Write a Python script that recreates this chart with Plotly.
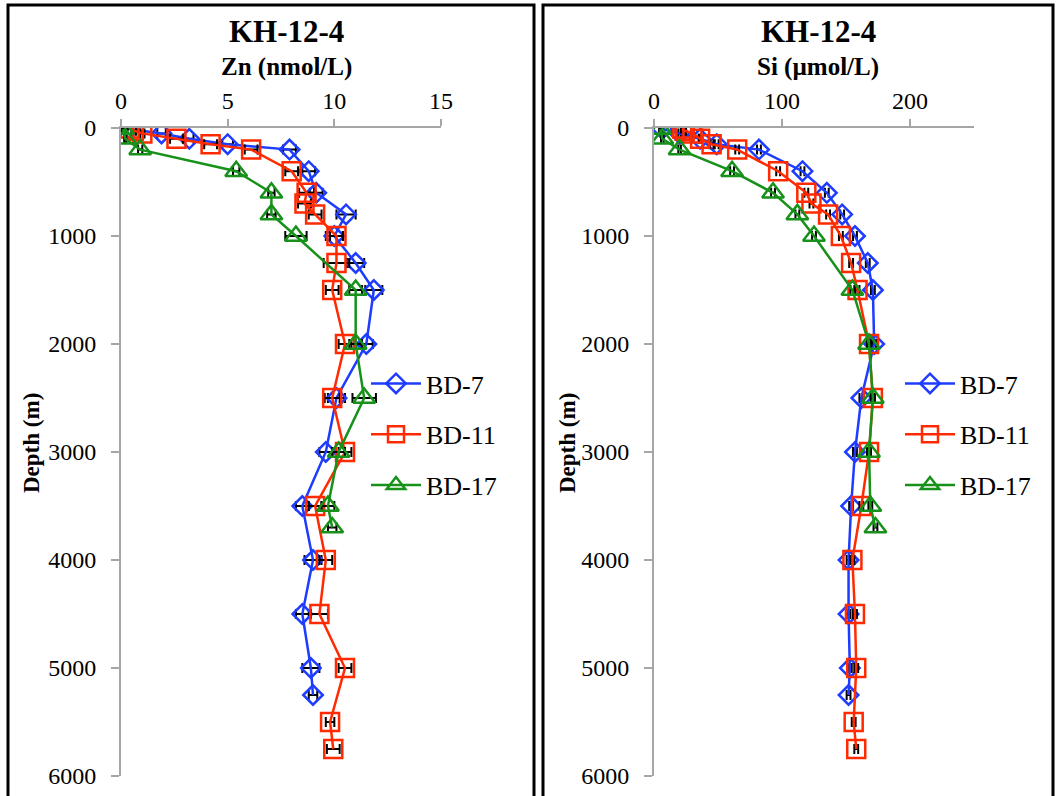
import plotly.graph_objects as go

# ---------------- data ----------------
series_names = ["BD-7", "BD-11", "BD-17"]

bd7_depth = [10, 50, 100, 150, 200, 400, 600, 800, 1000, 1250, 1500, 2000, 2500, 3000, 3500, 4000, 4500, 5000, 5250]
bd7_zn = [0.4, 1.9, 3.2, 5.0, 7.9, 8.8, 9.15, 10.55, 10.0, 11.0, 11.85, 11.5, 10.1, 9.6, 8.5, 9.0, 8.5, 8.9, 9.0]
bd7_zn_err = [0.1, 0.2, 0.2, 0.25, 0.3, 0.3, 0.3, 0.45, 0.4, 0.4, 0.4, 0.3, 0.4, 0.3, 0.3, 0.4, 0.3, 0.4, 0.2]
bd7_si = [6.5, 20, 36, 49, 82, 116, 135, 147, 157, 167, 171, 172, 162, 157, 154, 152, 152, 153, 152]
bd7_si_err = [1.0, 1.0, 1.0, 1.5, 1.5, 1.5, 1.5, 1.5, 1.5, 1.5, 1.5, 1.5, 1.5, 1.5, 1.5, 1.5, 1.5, 1.5, 1.5]

bd11_depth = [5, 25, 50, 100, 150, 200, 400, 600, 700, 800, 1000, 1250, 1500, 2000, 2500, 3000, 3500, 4000, 4500, 5000, 5500, 5750]
bd11_zn = [0.4, 0.6, 1.0, 2.6, 4.2, 6.1, 8.0, 8.7, 8.6, 9.1, 10.1, 10.1, 9.9, 10.5, 9.9, 10.5, 9.1, 9.6, 9.3, 10.5, 9.8, 9.95]
bd11_zn_err = [0.1, 0.1, 0.1, 0.3, 0.3, 0.3, 0.3, 0.35, 0.3, 0.3, 0.3, 0.6, 0.3, 0.3, 0.35, 0.3, 0.3, 0.3, 0.4, 0.3, 0.2, 0.3]
bd11_si = [22, 24, 30, 36, 45, 65, 97, 119, 123, 136, 146, 154, 159, 168, 171, 168, 162, 155, 157, 158, 156, 158]
bd11_si_err = [1.0, 1.0, 1.0, 1.0, 1.5, 1.5, 1.5, 1.5, 1.5, 1.5, 1.5, 1.5, 1.5, 1.5, 1.5, 1.5, 1.5, 1.5, 1.5, 1.5, 1.5, 1.5]

bd17_depth = [10, 100, 200, 400, 600, 800, 1000, 1500, 2000, 2500, 3000, 3500, 3700]
bd17_zn = [0.1, 0.2, 0.9, 5.4, 7.05, 7.05, 8.2, 11.0, 11.0, 11.4, 10.2, 9.7, 9.9]
bd17_zn_err = [0.05, 0.05, 0.1, 0.15, 0.15, 0.2, 0.5, 0.3, 0.3, 0.55, 0.3, 0.3, 0.2]
bd17_si = [5, 6.5, 20, 61, 93, 112, 125, 155, 168, 171, 168, 169, 173]
bd17_si_err = [1.0, 1.0, 1.0, 1.5, 1.5, 1.5, 1.5, 1.5, 1.5, 1.5, 1.5, 1.5, 1.5]

zn_ticks = [0, 5, 10, 15]
si_ticks = [0, 100, 200]
depth_ticks = [0, 1000, 2000, 3000, 4000, 5000, 6000]

panel_title = "KH-12-4"
zn_label = "Zn (nmol/L)"
si_label = "Si (µmol/L)"
depth_label = "Depth (m)"

# ---------------- style ----------------
W, H = 1056, 796
FONT = "Liberation Serif, Times New Roman, serif"
colors = ["#1E3CFF", "#FF2A00", "#17911A"]
symbols = ["diamond-open", "square-open", "triangle-up-open"]
msizes = [15, 18, 19]
AXC = "#A6A6A6"


def px_x(p):
    return p / W


def px_y(p):
    return 1 - p / H


fig = go.Figure()

datasets = [
    (bd7_depth, bd7_zn, bd7_zn_err, bd7_si, bd7_si_err),
    (bd11_depth, bd11_zn, bd11_zn_err, bd11_si, bd11_si_err),
    (bd17_depth, bd17_zn, bd17_zn_err, bd17_si, bd17_si_err),
]

for panel in range(2):
    for i, (dep, zn, zerr, si, serr) in enumerate(datasets):
        xv = zn if panel == 0 else si
        ev = zerr if panel == 0 else serr
        fig.add_trace(go.Scatter(
            x=xv, y=dep,
            mode="lines+markers",
            name=series_names[i],
            legendgroup=f"g{panel}{i}",
            legend="legend" if panel == 0 else "legend2",
            xaxis="x" if panel == 0 else "x2",
            yaxis="y" if panel == 0 else "y2",
            line=dict(color=colors[i], width=2.5),
            marker=dict(symbol=symbols[i], size=msizes[i], color=colors[i],
                        line=dict(color=colors[i], width=2.5)),
            error_x=dict(type="data", array=ev, visible=True, color="black",
                         thickness=2, width=5),
        ))

axis_common = dict(showline=True, linecolor=AXC, linewidth=2, ticks="outside",
                   tickcolor=AXC, tickwidth=2, showgrid=False, zeroline=False,
                   automargin=False,
                   tickfont=dict(family=FONT, size=24, color="black"))

ydom = [px_y(776), px_y(128)]

fig.update_layout(
    width=W, height=H,
    margin=dict(l=0, r=0, t=0, b=0, pad=0, autoexpand=False),
    paper_bgcolor="white", plot_bgcolor="white",
    font=dict(family=FONT, color="black"),
    xaxis=dict(domain=[px_x(121), px_x(441)], range=[0, 15], tickvals=zn_ticks,
               side="top", anchor="y", ticklen=7, **axis_common),
    yaxis=dict(domain=ydom, range=[6000, 0], tickvals=depth_ticks, anchor="x",
               ticklen=8, ticklabelstandoff=10, **axis_common),
    xaxis2=dict(domain=[px_x(654), px_x(974)], range=[0, 250], tickvals=si_ticks,
                side="top", anchor="y2", ticklen=7, **axis_common),
    yaxis2=dict(domain=ydom, range=[6000, 0], tickvals=depth_ticks, anchor="x2",
                ticklen=8, ticklabelstandoff=10, **axis_common),
    legend=dict(x=px_x(366), y=px_y(360), xanchor="left", yanchor="top",
                bgcolor="rgba(0,0,0,0)", font=dict(family=FONT, size=26),
                traceorder="grouped", tracegroupgap=14, itemwidth=50),
    legend2=dict(x=px_x(900), y=px_y(360), xanchor="left", yanchor="top",
                 bgcolor="rgba(0,0,0,0)", font=dict(family=FONT, size=26),
                 traceorder="grouped", tracegroupgap=14, itemwidth=50),
    showlegend=True,
)

# panel frames
for x0, x1 in [(8, 534), (543, 1053)]:
    fig.add_shape(type="rect", xref="paper", yref="paper",
                  x0=px_x(x0), x1=px_x(x1), y0=-0.05, y1=px_y(5),
                  line=dict(color="black", width=3), fillcolor="rgba(0,0,0,0)")

# titles
for cx, lab in [(286, zn_label), (818, si_label)]:
    fig.add_annotation(text=f"<b>{panel_title}</b>", xref="paper", yref="paper",
                       x=px_x(cx), y=px_y(32), xanchor="center", yanchor="middle",
                       showarrow=False, font=dict(family=FONT, size=31, color="black"))
    fig.add_annotation(text=f"<b>{lab}</b>", xref="paper", yref="paper",
                       x=px_x(cx), y=px_y(67), xanchor="center", yanchor="middle",
                       showarrow=False, font=dict(family=FONT, size=25, color="black"))

for cx in [31, 567]:
    fig.add_annotation(text=f"<b>{depth_label}</b>", xref="paper", yref="paper",
                       x=px_x(cx), y=px_y(443), xanchor="center", yanchor="middle",
                       textangle=-90, showarrow=False,
                       font=dict(family=FONT, size=23, color="black"))

fig.write_html("out.html")
